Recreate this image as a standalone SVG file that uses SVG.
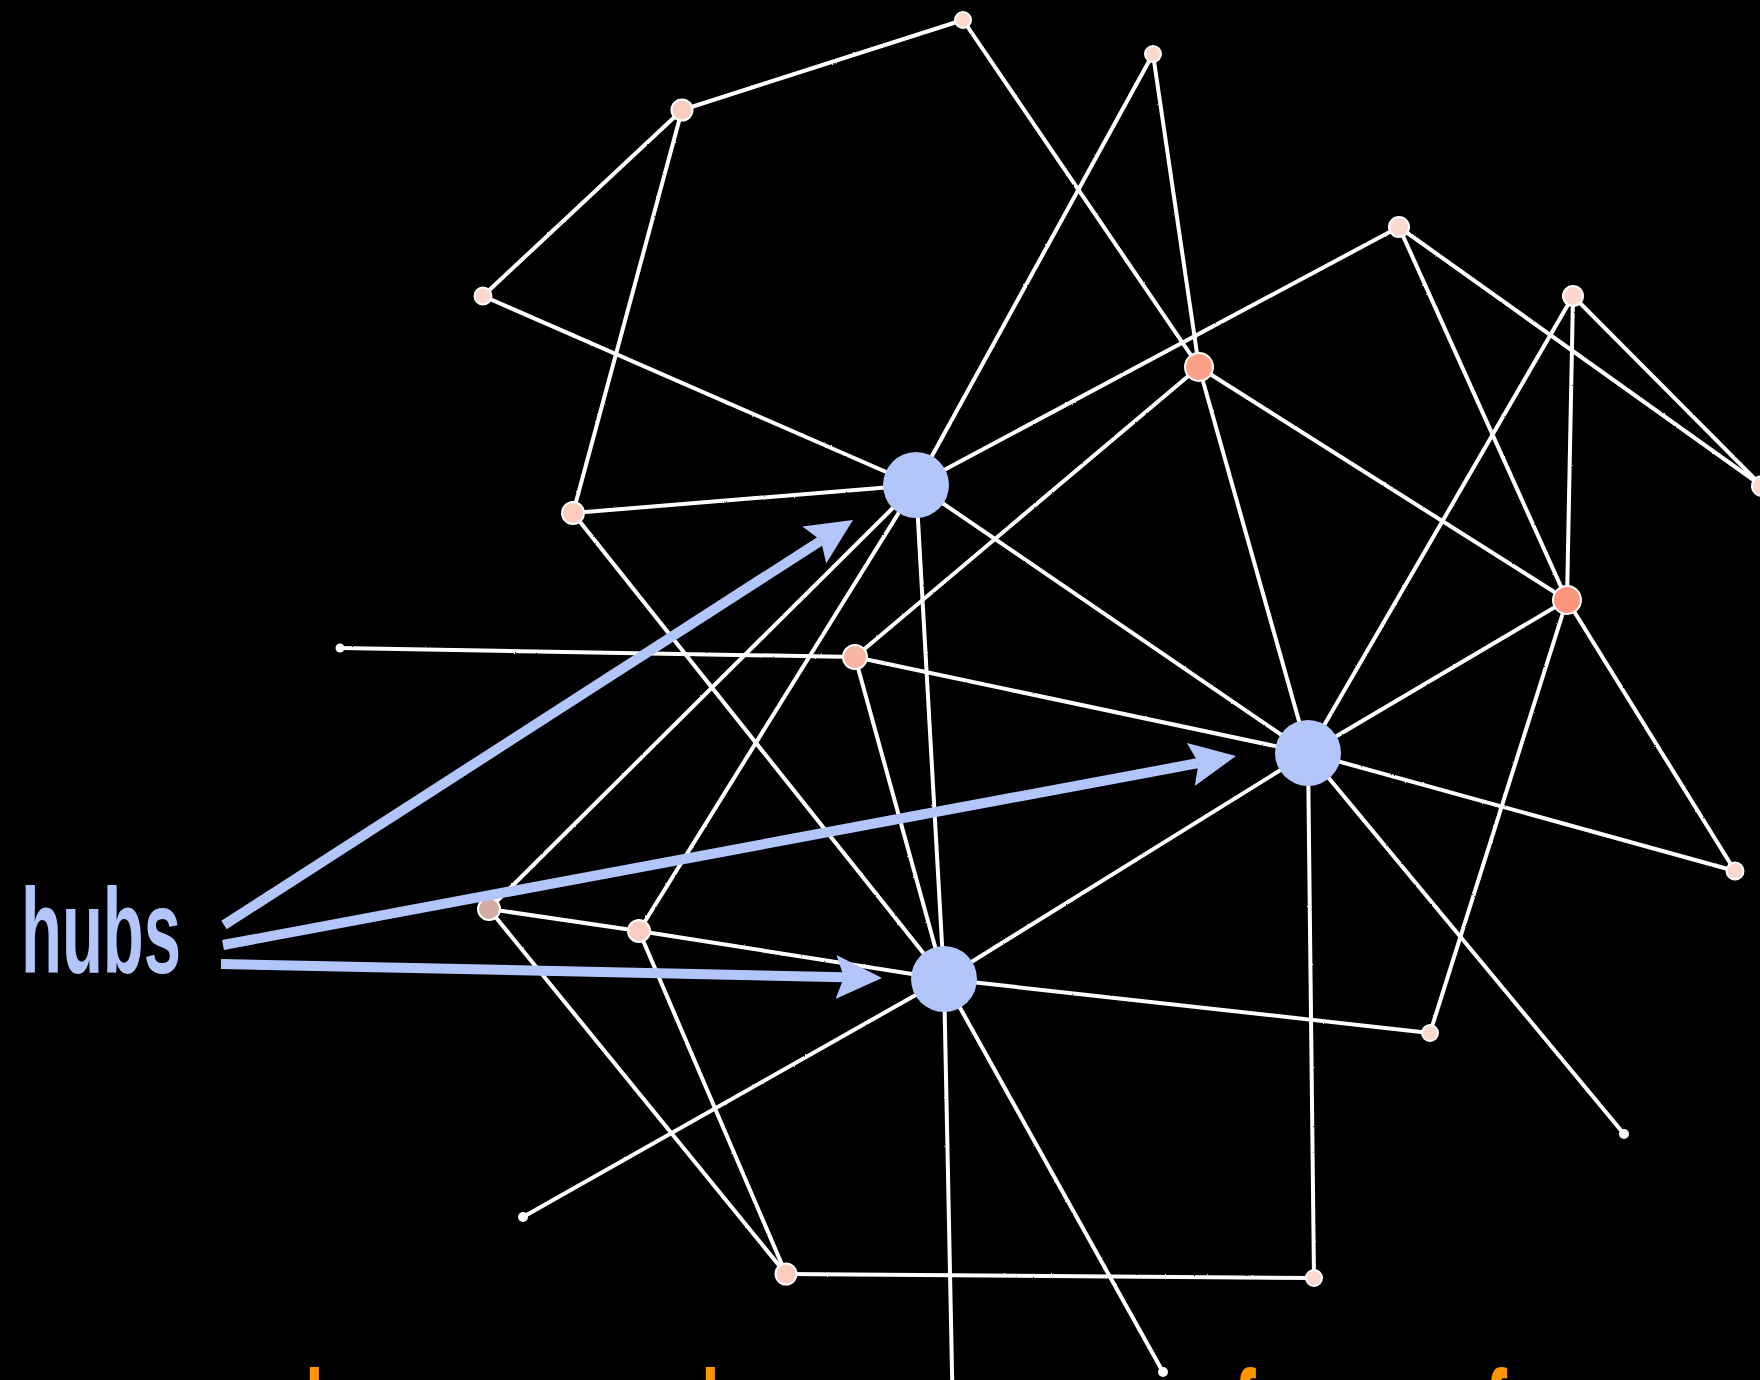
<svg xmlns="http://www.w3.org/2000/svg" width="1760" height="1380" viewBox="0 0 1760 1380">
  <defs>
    <style>
      .edge { stroke: #ffffff; stroke-width: 4; stroke-linecap: round; fill: none; }
      .arrow { stroke: #b2c6fc; stroke-width: 10; fill: none; marker-end: url(#ah); }
      .hub { fill: #b2c6fc; }
      .n { stroke: #ffffff; stroke-width: 2; }
      .pk { fill: #fcd8ce; }
      .pk2 { fill: #fbcdc1; }
      .sal { fill: #ffa088; }
      .sal2 { fill: #f9957c; }
      .mid { fill: #fbb6a2; }
      .brn { fill: #d2aba3; }
      .wt { fill: #ffffff; stroke: none; }
      .label { font-family: "Liberation Sans", Arial, sans-serif; font-weight: bold; font-size: 120px; }
    </style>
    <filter id="chalk" x="-5%" y="-5%" width="110%" height="110%">
      <feTurbulence type="fractalNoise" baseFrequency="0.9" numOctaves="2" seed="3" result="noise"/>
      <feDisplacementMap in="SourceGraphic" in2="noise" scale="1.6" xChannelSelector="R" yChannelSelector="G"/>
    </filter>
    <marker id="ah" markerUnits="userSpaceOnUse" viewBox="0 0 46 46" markerWidth="46" markerHeight="46" refX="8" refY="23" orient="auto">
      <path d="M0,1 L46,23 L0,45 L8,23 Z" fill="#b2c6fc"/>
    </marker>
  </defs>
  <rect x="0" y="0" width="1760" height="1380" fill="#000000"/>

  <g id="connectors" filter="url(#chalk)">
    <line class="edge" x1="963" y1="20" x2="682" y2="110"/>
    <line class="edge" x1="963" y1="20" x2="1199" y2="367"/>
    <line class="edge" x1="1153" y1="54" x2="1199" y2="367"/>
    <line class="edge" x1="1153" y1="54" x2="916" y2="485"/>
    <line class="edge" x1="682" y1="110" x2="483" y2="296"/>
    <line class="edge" x1="682" y1="110" x2="573" y2="513"/>
    <line class="edge" x1="483" y1="296" x2="916" y2="485"/>
    <line class="edge" x1="573" y1="513" x2="916" y2="485"/>
    <line class="edge" x1="573" y1="513" x2="944" y2="979"/>
    <line class="edge" x1="1399" y1="227" x2="916" y2="485"/>
    <line class="edge" x1="1399" y1="227" x2="1567" y2="600"/>
    <line class="edge" x1="1399" y1="227" x2="1762" y2="486"/>
    <line class="edge" x1="1573" y1="296" x2="1762" y2="486"/>
    <line class="edge" x1="1573" y1="296" x2="1567" y2="600"/>
    <line class="edge" x1="1573" y1="296" x2="1308" y2="753"/>
    <line class="edge" x1="1199" y1="367" x2="855" y2="657"/>
    <line class="edge" x1="1199" y1="367" x2="1308" y2="753"/>
    <line class="edge" x1="1199" y1="367" x2="1567" y2="600"/>
    <line class="edge" x1="916" y1="485" x2="1308" y2="753"/>
    <line class="edge" x1="916" y1="485" x2="944" y2="979"/>
    <line class="edge" x1="916" y1="485" x2="489" y2="909"/>
    <line class="edge" x1="916" y1="485" x2="639" y2="931"/>
    <line class="edge" x1="340" y1="648" x2="855" y2="657"/>
    <line class="edge" x1="855" y1="657" x2="1308" y2="753"/>
    <line class="edge" x1="855" y1="657" x2="944" y2="979"/>
    <line class="edge" x1="1567" y1="600" x2="1308" y2="753"/>
    <line class="edge" x1="1567" y1="600" x2="1735" y2="871"/>
    <line class="edge" x1="1567" y1="600" x2="1430" y2="1033"/>
    <line class="edge" x1="1308" y1="753" x2="1735" y2="871"/>
    <line class="edge" x1="1308" y1="753" x2="1624" y2="1134"/>
    <line class="edge" x1="1308" y1="753" x2="1314" y2="1278"/>
    <line class="edge" x1="1308" y1="753" x2="944" y2="979"/>
    <line class="edge" x1="489" y1="909" x2="639" y2="931"/>
    <line class="edge" x1="639" y1="931" x2="944" y2="979"/>
    <line class="edge" x1="489" y1="909" x2="786" y2="1274"/>
    <line class="edge" x1="639" y1="931" x2="786" y2="1274"/>
    <line class="edge" x1="786" y1="1274" x2="1314" y2="1278"/>
    <line class="edge" x1="944" y1="979" x2="1430" y2="1033"/>
    <line class="edge" x1="944" y1="979" x2="523" y2="1217"/>
    <line class="edge" x1="944" y1="979" x2="1163" y2="1372"/>
    <line class="edge" x1="944" y1="979" x2="953" y2="1420"/>
  </g>

  <g id="nodes">
    <g id="node-a"><circle class="n pk" cx="963" cy="20" r="8"/></g>
    <g id="node-b"><circle class="n pk2" cx="682" cy="110" r="10.5"/></g>
    <g id="node-c"><circle class="n pk" cx="1153" cy="54" r="8"/></g>
    <g id="node-d"><circle class="n pk" cx="483" cy="296" r="8.5"/></g>
    <g id="node-e"><circle class="n pk" cx="1399" cy="227" r="10"/></g>
    <g id="node-f"><circle class="n pk" cx="1573" cy="296" r="10"/></g>
    <g id="node-g"><circle class="n sal" cx="1199" cy="367" r="14"/></g>
    <g id="node-i"><circle class="n pk" cx="1762" cy="486" r="10"/></g>
    <g id="node-j"><circle class="n pk2" cx="573" cy="513" r="11"/></g>
    <g id="node-k"><circle class="n sal2" cx="1567" cy="600" r="14"/></g>
    <g id="node-l"><circle class="wt" cx="340" cy="648" r="4.5"/></g>
    <g id="node-m"><circle class="n mid" cx="855" cy="657" r="12"/></g>
    <g id="node-o"><circle class="n pk" cx="1735" cy="871" r="8.5"/></g>
    <g id="node-p"><circle class="n brn" cx="489" cy="909" r="11"/></g>
    <g id="node-q"><circle class="n pk2" cx="639" cy="931" r="11"/></g>
    <g id="node-s"><circle class="n pk" cx="1430" cy="1033" r="8"/></g>
    <g id="node-t"><circle class="wt" cx="1624" cy="1134" r="5"/></g>
    <g id="node-u"><circle class="wt" cx="523" cy="1217" r="5"/></g>
    <g id="node-v"><circle class="n pk2" cx="786" cy="1274" r="10.5"/></g>
    <g id="node-w"><circle class="n pk" cx="1314" cy="1278" r="8"/></g>
    <g id="node-x"><circle class="wt" cx="1163" cy="1372" r="5"/></g>
    <g id="hub-1"><circle class="hub" cx="916" cy="485" r="33"/></g>
    <g id="hub-2"><circle class="hub" cx="1308" cy="753" r="33"/></g>
    <g id="hub-3"><circle class="hub" cx="944" cy="979" r="33"/></g>
  </g>

  <g id="arrows">
    <line class="arrow" x1="224" y1="925" x2="821" y2="540.6"/>
    <line class="arrow" x1="223" y1="945" x2="1198.6" y2="763"/>
    <line class="arrow" x1="221" y1="964" x2="844" y2="977.2"/>
  </g>

  <g id="hubs-label">
    <text class="label" x="21" y="973" fill="#b2c6fc" textLength="160" lengthAdjust="spacingAndGlyphs">hubs</text>
  </g>
  <g id="caption">
    <text class="label" fill="#ff9500" transform="scale(0.55 1)" x="555 1275 2243 2700" y="1455">llff</text>
  </g>
</svg>
